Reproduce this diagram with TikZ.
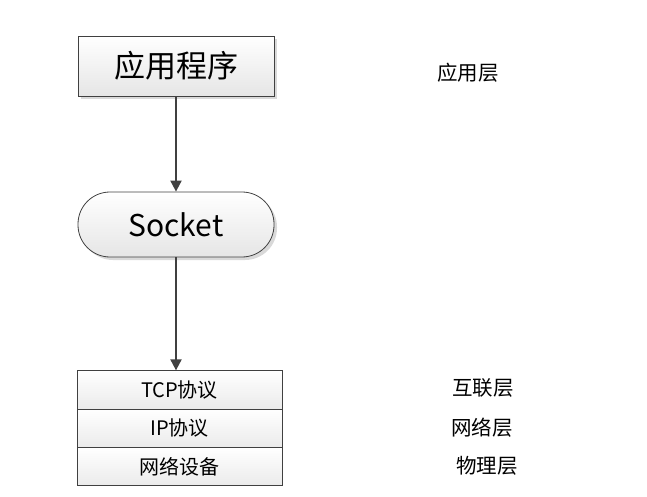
\documentclass[tikz,border=0pt]{standalone}
\usepackage{fontspec}
\setmainfont{Noto Sans CJK SC}
\usetikzlibrary{shadows,arrows.meta}
\begin{document}
\begin{tikzpicture}[x=1pt,y=1pt,
  boxstyle/.style={draw=black!75, line width=0.8pt, top color=white, bottom color=black!10,
     drop shadow={shadow xshift=3pt, shadow yshift=-3pt, fill=black!25, opacity=0.6}},
  cellstyle/.style={draw=black!75, line width=0.8pt, top color=white, bottom color=black!8,
     minimum width=205pt, minimum height=38.3pt, inner sep=0pt, font=\fontsize{20}{24}\selectfont},
  layerlabel/.style={font=\fontsize{20.5}{24}\selectfont, inner sep=0pt},
  conn/.style={draw=black!75, line width=2pt, -{Triangle[length=11pt,width=11pt]}}]
\useasboundingbox (0,0) rectangle (647,496);
\node[boxstyle, minimum width=196pt, minimum height=60pt, inner sep=0pt,
  font=\fontsize{31}{34}\selectfont] (app) at (176,430) {应用程序};
\node[boxstyle, rounded corners=32pt, minimum width=196pt, minimum height=65pt, inner sep=0pt,
  font=\fontsize{30}{34}\selectfont] (sock) at (176,271.5) {Socket};
\node[cellstyle] (tcp) at (179.5,106.1) {TCP协议};
\node[cellstyle] (ip) at (179.5,67.8) {IP协议};
\node[cellstyle] (dev) at (179.5,29.5) {网络设备};
\node[layerlabel] (l1) at (468,423) {应用层};
\node[layerlabel] (l2) at (483,108) {互联层};
\node[layerlabel] (l3) at (482,68) {网络层};
\node[layerlabel] (l4) at (487,30) {物理层};
\draw[conn] (app.south) -- (sock.north);
\draw[conn] (sock.south) -- (sock.south |- tcp.north);
\end{tikzpicture}
\end{document}
